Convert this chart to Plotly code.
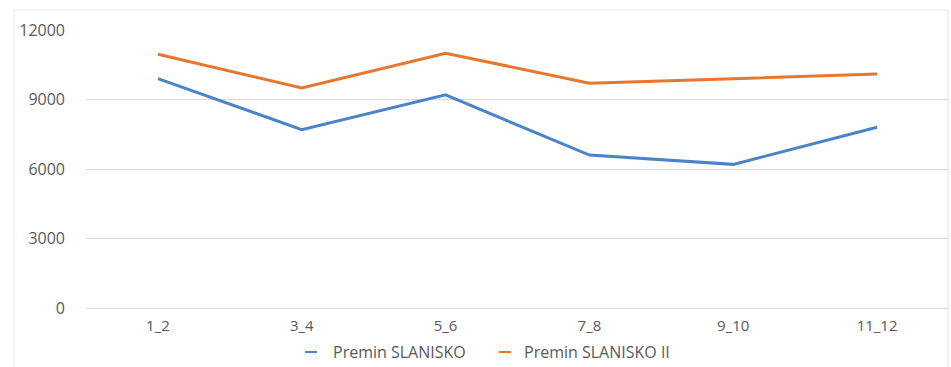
import plotly.graph_objects as go

# Period labels on the category axis
periods = ["1_2", "3_4", "5_6", "7_8", "9_10", "11_12"]

# Series values
slanisko = [9900, 7700, 9200, 6600, 6200, 7800]
slanisko_ii = [10950, 9500, 11000, 9700, 9900, 10100]

series_names = ["Premin SLANISKO", "Premin SLANISKO II"]
series_colors = ["#4a84c8", "#e8772e"]

# Y-axis ticks
y_ticks = [0, 3000, 6000, 9000, 12000]

W, H = 951, 367
L, R, T, B = 86, 2, 30, 59
pw, ph = W - L - R, H - T - B


def px_x(x):
    return (x - L) / pw


def px_y(y):
    return (H - B - y) / ph


fig = go.Figure()
for name, vals, col in zip(series_names, [slanisko, slanisko_ii], series_colors):
    fig.add_trace(go.Scatter(
        x=periods, y=vals, name=name, mode="lines",
        line=dict(color=col, width=3),
        showlegend=False,
    ))

font_family = "Open Sans, Liberation Sans, sans-serif"

# Legend drawn as short dashes with labels underneath the plot
legend_items = [(305, 317, 331), (499, 511, 522)]
shapes = []
annotations = []
for (x0, x1, tx), name, col in zip(legend_items, series_names, series_colors):
    shapes.append(dict(type="line", xref="paper", yref="paper",
                       x0=px_x(x0), x1=px_x(x1), y0=px_y(352), y1=px_y(352),
                       line=dict(color=col, width=2)))
    annotations.append(dict(xref="paper", yref="paper", x=px_x(tx), y=px_y(352),
                            text=name, showarrow=False, xanchor="left", yanchor="middle",
                            font=dict(size=16, color="#595959", family=font_family)))

# Light chart frame
shapes.append(dict(type="rect", xref="paper", yref="paper",
                   x0=px_x(14), x1=px_x(948), y0=px_y(380), y1=px_y(10),
                   line=dict(color="#e8e8e8", width=1), layer="below"))

fig.update_layout(
    width=W, height=H,
    margin=dict(l=L, r=R, t=T, b=B),
    paper_bgcolor="white", plot_bgcolor="white",
    font=dict(family=font_family, size=15, color="#595959"),
    shapes=shapes, annotations=annotations,
    xaxis=dict(
        type="category", range=[-0.5, len(periods) - 0.5],
        showgrid=False, zeroline=False, showline=False, ticks="",
        tickfont=dict(size=15, color="#595959"),
        ticklabelstandoff=7,
    ),
    yaxis=dict(
        range=[0, 12000], tickvals=y_ticks, ticktext=[str(v) for v in y_ticks],
        showgrid=True, gridcolor="#d9d9d9", gridwidth=1,
        zeroline=True, zerolinecolor="#d9d9d9", zerolinewidth=1,
        showline=False, ticks="",
        tickfont=dict(size=16, color="#595959"),
        ticklabelstandoff=20,
    ),
)

fig.write_html("out.html")
